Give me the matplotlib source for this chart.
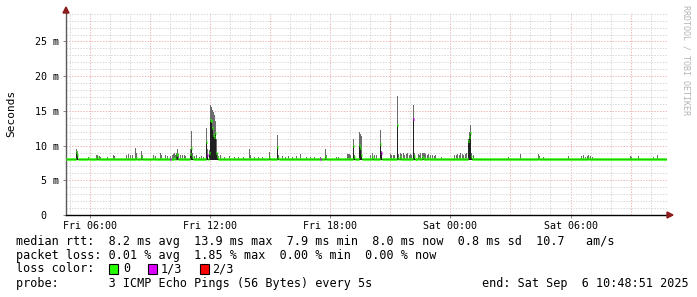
import numpy as np
import matplotlib
matplotlib.use('Agg')
import matplotlib.pyplot as plt
from matplotlib.patches import Rectangle, Polygon

# Smokeping 30 hour graph, x in hours counted from Fri 00:00
W, H = 697, 297
t_end = 24 + 10 + 48 / 60 + 51 / 3600      # Sat 10:48:51
t_start = t_end - 30
step_h = 3 / 60                              # one rrd step = 3 min
n_steps = 600

base_median = 8.0
base_min = 7.9

# steps that leave the baseline: step index, median [ms], max [ms]
spike_step = [10, 11, 22, 30, 31, 33, 34, 41, 47, 48, 60, 62, 64, 66, 69, 70,
              75, 76, 87, 89, 94, 95, 99, 101, 104, 106, 107, 108, 109, 110, 111,
              112, 114, 116, 118, 119,
              124, 125, 126, 128, 130, 133, 135, 137, 140, 141, 143, 144, 145,
              146, 147, 148, 149, 150, 151, 152, 154, 158, 163, 168, 172, 177,
              183, 184, 188, 192, 196, 203, 211, 212, 216, 219, 222, 226, 230,
              234, 240, 244, 248, 254, 259, 260, 270, 272, 281, 282, 283, 284,
              287, 288, 293, 294, 295, 304, 306, 308, 310, 314, 315, 324, 325,
              327, 328, 331, 332, 334, 335, 337, 338, 340, 341, 343, 344, 345,
              347, 348,
              351, 352, 353, 355, 356, 357, 358, 360, 361, 363, 365, 367, 368,
              374, 387, 389, 390, 392, 393, 395, 396, 398, 399, 401, 402, 403,
              404, 406, 441, 453,
              471, 472, 476, 501, 514, 516, 518, 520, 521, 523, 525, 563, 564,
              571, 586, 590]
spike_median = [9.1, 8.6, 8.2, 8.1, 8.3, 8.0, 8.1, 8.0, 8.0, 8.0, 8.0, 8.0, 8.1, 8.0, 8.0, 8.2,
                8.3, 8.0, 8.2, 8.0, 8.0, 8.0, 8.0, 8.0, 8.0, 8.1, 8.0, 8.2, 8.0, 8.6, 8.8,
                8.0, 8.1, 8.0, 8.0, 8.0,
                8.8, 9.6, 8.4, 8.0, 8.1, 8.0, 8.0, 8.0, 10.5, 8.7, 8.9, 13.7, 13.5,
                12.5, 11.5, 11.3, 11.8, 9.0, 8.3, 8.1, 8.0, 8.0, 8.0, 8.0, 8.0, 8.0,
                8.0, 8.1, 8.0, 8.0, 8.0, 8.3, 9.8, 8.2, 8.0, 8.0, 8.0, 8.0, 8.0,
                8.0, 8.0, 8.0, 8.0, 8.0, 8.3, 8.1, 8.0, 8.0, 8.0, 8.0, 8.0, 8.0,
                10.0, 8.3, 10.1, 9.6, 8.6, 8.0, 8.3, 8.0, 8.1, 10.2, 8.9, 8.0, 8.0,
                8.0, 8.0, 13.0, 8.2, 8.3, 8.0, 8.1, 8.0, 8.0, 8.0, 8.0, 8.1, 8.0,
                13.9, 8.5,
                8.2, 8.0, 8.1, 8.3, 8.2, 8.0, 8.1, 8.0, 8.2, 8.0, 8.0, 8.0, 8.0,
                8.0, 8.0, 8.0, 8.0, 8.1, 8.0, 8.0, 8.1, 8.0, 8.0, 10.6, 11.2, 11.8,
                8.4, 8.0, 8.0, 8.0,
                8.2, 8.0, 8.0, 8.0, 8.0, 8.0, 8.0, 8.1, 8.2, 8.0, 8.0, 8.0, 8.0,
                8.0, 8.0, 8.0]
spike_max = [9.5, 9.2, 8.4, 8.6, 8.7, 8.5, 8.4, 8.3, 8.6, 8.5, 8.7, 8.8, 8.6, 8.7, 9.7, 9.0,
             9.2, 8.7, 8.6, 8.5, 8.9, 8.6, 8.6, 8.5, 8.5, 8.7, 8.8, 8.9, 8.7, 9.0, 9.5,
             8.8, 8.7, 8.6, 8.7, 8.5,
             9.5, 12.1, 9.0, 8.5, 8.6, 8.4, 8.5, 8.4, 12.6, 9.5, 9.3, 15.8, 15.5,
             15.1, 14.8, 14.4, 13.6, 11.0, 9.0, 8.5, 8.6, 8.4, 8.5, 8.4, 8.4, 8.4,
             9.5, 8.6, 8.4, 8.4, 8.4, 9.1, 11.5, 8.7, 8.5, 8.4, 8.5, 8.4, 8.5,
             8.8, 8.4, 8.4, 8.4, 8.3, 9.5, 8.7, 8.4, 8.4, 8.8, 8.8, 8.8, 8.7,
             11.0, 8.7, 12.0, 11.7, 11.4, 8.6, 8.9, 8.7, 8.7, 12.2, 9.2, 8.8, 8.6,
             8.7, 8.6, 17.1, 8.8, 9.0, 8.8, 8.9, 8.7, 8.8, 8.9, 8.7, 8.8, 8.7,
             15.8, 9.0,
             8.8, 8.7, 8.9, 9.0, 8.9, 8.9, 8.8, 8.7, 8.8, 8.7, 8.6, 8.5, 8.6,
             8.4, 8.6, 8.7, 8.8, 8.7, 8.9, 8.8, 8.7, 8.8, 8.9, 11.0, 12.0, 13.0,
             8.9, 8.7, 8.4, 8.8,
             8.8, 8.5, 8.4, 8.5, 8.5, 8.6, 8.4, 8.5, 8.6, 8.5, 8.4, 8.5, 8.4,
             8.5, 8.4, 8.6]
# steps where 1 of 3 pings was lost
lossy_step = [104, 141, 254, 315, 347]

loss_colors = ['#26ff00', '#dd00ff', '#ff0000']
loss_labels = ['0', '1/3', '2/3']

x_tick_pos = [6, 12, 18, 24, 30]
x_tick_lab = ['Fri 06:00', 'Fri 12:00', 'Fri 18:00', 'Sat 00:00', 'Sat 06:00']
y_tick_pos = [0, 5, 10, 15, 20, 25]
y_tick_lab = ['0  ', '5 m', '10 m', '15 m', '20 m', '25 m']

legend_lines = [
    'median rtt:  8.2 ms avg  13.9 ms max  7.9 ms min  8.0 ms now  0.8 ms sd  10.7   am/s',
    'packet loss: 0.01 % avg  1.85 % max  0.00 % min  0.00 % now',
    'loss color:',
    'probe:       3 ICMP Echo Pings (56 Bytes) every 5s',
]
end_text = 'end: Sat Sep  6 10:48:51 2025'

MONO = 'DejaVu Sans Mono'


def fx(px):
    return px / W


def fy(py):
    return 1 - py / H


# build the series
t = t_start + np.arange(n_steps) * step_h
median = np.full(n_steps, base_median)
vmax = np.full(n_steps, base_median)
vmin = np.full(n_steps, base_min)
median[spike_step] = spike_median
vmax[spike_step] = spike_max
loss = np.zeros(n_steps, dtype=int)
loss[lossy_step] = 1

fig = plt.figure(figsize=(W / 100, H / 100), dpi=100)
ax = fig.add_axes([fx(65.8), fy(215), fx(667) - fx(65.8), fy(13) - fy(215)])

# grid
for h in range(5, 35):
    col = '#ecb8b8' if h % 3 == 0 else '#d8d8d8'
    ax.axvline(h, color=col, lw=0.72, ls=(0, (1.4, 1.4)), zorder=0)
for v in range(1, 30):
    col = '#ecb8b8' if v % 5 == 0 else '#d8d8d8'
    ax.axhline(v, color=col, lw=0.72, ls=(0, (1.4, 1.4)), zorder=0)

# smoke
ax.bar(t, median - vmin, bottom=vmin, width=step_h, align='edge',
       color='#1f1f1f', lw=0, zorder=2)
ax.bar(t, vmax - median, bottom=median, width=step_h, align='edge',
       color='#6c6c6c', lw=0, zorder=2)

# median coloured by loss
for lvl, col in enumerate(loss_colors):
    m = loss == lvl
    if m.any():
        ax.hlines(median[m], t[m], t[m] + step_h, colors=col, lw=2.2,
                  capstyle='butt', zorder=3)

ax.set_xlim(t_start, t_end)
ax.set_ylim(0, 29.1)
ax.set_xticks(x_tick_pos)
ax.set_xticklabels(x_tick_lab)
ax.set_yticks(y_tick_pos)
ax.set_yticklabels(y_tick_lab)
for lab in ax.get_xticklabels() + ax.get_yticklabels():
    lab.set_family(MONO)
    lab.set_fontsize(7.2)
ax.tick_params(axis='x', length=2, width=0.7, color='#888888', pad=2)
ax.tick_params(axis='y', length=2, width=0.7, color='#888888', pad=3)

for s in ['top', 'right']:
    ax.spines[s].set_visible(False)
ax.spines['left'].set_color('#5a5a5a')
ax.spines['bottom'].set_color('#000000')
ax.spines['left'].set_linewidth(1.0)
ax.spines['bottom'].set_linewidth(1.0)

fig.text(fx(11), fy(113), 'Seconds', rotation=90, family=MONO, fontsize=8,
         ha='center', va='center')

# arrows at the axis ends
arrow_col = '#8a1c1c'
fig.patches.append(Polygon([(fx(667), fy(212)), (fx(667), fy(218)), (fx(673), fy(215))],
                           closed=True, transform=fig.transFigure, color=arrow_col))
fig.patches.append(Polygon([(fx(63), fy(13)), (fx(69), fy(13)), (fx(66), fy(7))],
                           closed=True, transform=fig.transFigure, color=arrow_col))

# watermark
fig.text(fx(686), fy(5), 'RRDTOOL / TOBI OETIKER', rotation=270, family=MONO,
         fontsize=6, color='#b4b4b4', ha='center', va='top')

# legend
for i, line in enumerate(legend_lines):
    fig.text(fx(16), fy(241 + 14 * i), line, family=MONO, fontsize=8.5,
             va='center', ha='left')
fig.text(fx(689), fy(283), end_text, family=MONO, fontsize=8.5, va='center', ha='right')

box_x = [109, 148, 200]
lab_x = [123, 161, 212]
for bx, lx, col, lab in zip(box_x, lab_x, loss_colors, loss_labels):
    fig.patches.append(Rectangle((fx(bx), fy(274)), fx(9), fy(264) - fy(274),
                                 transform=fig.transFigure, facecolor=col,
                                 edgecolor='black', lw=0.8))
    fig.text(fx(lx), fy(269), lab, family=MONO, fontsize=8.5, va='center', ha='left')

fig.savefig('out.png', dpi=100)
